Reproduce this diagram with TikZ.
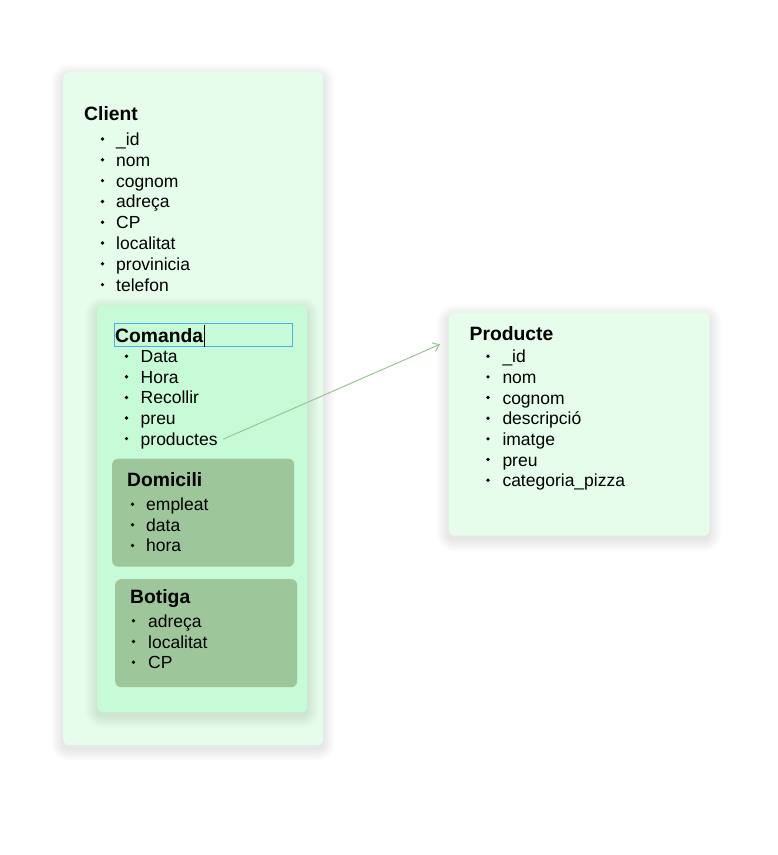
\documentclass[tikz,border=0pt]{standalone}
\usepackage{fontspec}
\setmainfont{Liberation Sans}
\usetikzlibrary{arrows.meta}
\definecolor{bgouter}{HTML}{E6FDEC}
\definecolor{bgcomanda}{HTML}{C7FAD6}
\definecolor{bgsub}{HTML}{9DC79A}
\definecolor{conncol}{HTML}{9BC598}
\definecolor{selblue}{HTML}{4AAFE8}
\begin{document}
\begin{tikzpicture}[x=1pt,y=-1pt,
  panel/.style={anchor=north west,inner sep=0pt,rounded corners=6pt},
  itemtext/.style={anchor=base west,inner sep=0pt,font=\fontsize{17.5}{20}\selectfont},
  titletext/.style={anchor=base west,inner sep=0pt,font=\fontsize{19.3}{22}\selectfont\bfseries},
  bul/.style={circle,fill=black,inner sep=0pt,minimum size=3.7pt},
  conn/.style={draw=conncol,line width=1pt,-{Straight Barb[length=6pt,width=9pt]}}]
\useasboundingbox (0,0) rectangle (778,855);
\fill[white] (0,0) rectangle (778,855);

% soft shadows of the outer boxes
\path (63,72) coordinate (a1) (323,745) coordinate (a2);
\path (97,305) coordinate (b1) (307,712) coordinate (b2);
\path (448.5,312.5) coordinate (c1) (709.5,535.5) coordinate (c2);
\foreach \p/\q in {a1/a2,c1/c2}{
  \foreach \k in {1,...,12}{
    \fill[black,opacity=0.009,rounded corners={6+\k}]
      ([shift={(-\k,{4-\k})}]\p) rectangle ([shift={(\k,{4+\k})}]\q);
  }
}

% Client
\node[panel,fill=bgouter,minimum width=260pt,minimum height=673pt] (client) at (63,72) {};
\node[titletext] (cltitle) at (84,120) {Client};
\foreach \t [count=\i] in {\_id,nom,cognom,adreça,CP,localitat,provinicia,telefon}{
  \node[itemtext] (cl-\i) at ({116},{145.5+20.8*(\i-1)}) {\t};
  \node[bul] (clb-\i) at ({102.5},{139+20.8*(\i-1)}) {};
}

% Comanda
\foreach \k in {1,...,12}{
  \fill[black!60!green,opacity=0.008,rounded corners={6+\k}]
    ([shift={(-\k,{4-\k})}]b1) rectangle ([shift={(\k,{4+\k})}]b2);
}
\node[panel,fill=bgcomanda,minimum width=210pt,minimum height=407pt] (comanda) at (97,305) {};
\node[anchor=north west,draw=selblue,line width=0.9pt,inner sep=0pt,minimum width=178pt,minimum height=23pt] (selbox) at (113.5,323) {};
\node[titletext] (cmtitle) at (115,342.7) {Comanda};
\draw[line width=0.8pt] ([xshift=0.8pt,yshift=-4pt]cmtitle.base east) -- ([xshift=0.8pt,yshift=18pt]cmtitle.base east);
\foreach \t [count=\i] in {Data,Hora,Recollir,preu,productes}{
  \node[itemtext] (cm-\i) at ({140.5},{362.7+20.6*(\i-1)}) {\t};
  \node[bul] (cmb-\i) at ({126.5},{356.2+20.6*(\i-1)}) {};
}

% Domicili
\node[panel,fill=bgsub,minimum width=182pt,minimum height=108pt] (domicili) at (112,458.5) {};
\node[titletext] (dmtitle) at (127,486.7) {Domicili};
\foreach \t [count=\i] in {empleat,data,hora}{
  \node[itemtext] (dm-\i) at ({146},{510.7+20.6*(\i-1)}) {\t};
  \node[bul] (dmb-\i) at ({132.5},{504.2+20.6*(\i-1)}) {};
}

% Botiga
\node[panel,fill=bgsub,minimum width=182pt,minimum height=108pt] (botiga) at (115,579) {};
\node[titletext] (bgtitle) at (130,603.3) {Botiga};
\foreach \t [count=\i] in {adreça,localitat,CP}{
  \node[itemtext] (bg-\i) at ({148},{627.3+20.7*(\i-1)}) {\t};
  \node[bul] (bgb-\i) at ({133.5},{620.8+20.7*(\i-1)}) {};
}

% Producte
\node[panel,fill=bgouter,minimum width=261pt,minimum height=223pt] (producte) at (448.5,312.5) {};
\node[titletext] (prtitle) at (469.5,340.7) {Producte};
\foreach \t [count=\i] in {\_id,nom,cognom,descripció,imatge,preu,categoria\_pizza}{
  \node[itemtext] (pr-\i) at ({502.3},{362.7+20.67*(\i-1)}) {\t};
  \node[bul] (prb-\i) at ({488},{356.2+20.67*(\i-1)}) {};
}

% connector
\coordinate (prtarget) at (440,344.3);
\draw[conn,shorten <=6pt] ([yshift=-1pt]cm-5.east) -- (prtarget);
\end{tikzpicture}
\end{document}
